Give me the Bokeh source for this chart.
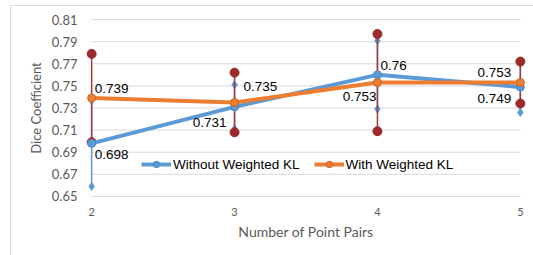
from bokeh.plotting import figure
from bokeh.models import (Range1d, FixedTicker, Legend, LegendItem, NumeralTickFormatter,
                          InlineStyleSheet)
from bokeh.core.properties import value
from bokeh.embed import file_html
from bokeh.resources import INLINE

# ---- data ----
pairs = [2, 3, 4, 5]
without_kl = [0.698, 0.731, 0.760, 0.749]
without_err = [0.039, 0.020, 0.031, 0.023]
with_kl = [0.739, 0.735, 0.753, 0.753]
with_err = [0.040, 0.027, 0.044, 0.019]
y_ticks = [0.65, 0.67, 0.69, 0.71, 0.73, 0.75, 0.77, 0.79, 0.81]
x_ticks = [2, 3, 4, 5]

# label placement (styles)
without_dx = [3, -8, 3, -9]
without_dy = [11, 16, -9, 11]
without_align = ["left", "right", "left", "right"]
with_dx = [3, 9, -1, -9]
with_dy = [-10, -16, 14, -10]
with_align = ["left", "left", "right", "right"]

BLUE = "#5B9BD5"
ORANGE = "#ED7D31"
RED = "#A23B37"
RED_CAP = "#9B2A2A"
GRID = "#D9D9D9"
GREY = "#595959"

p = figure(width=533, height=255, output_backend="svg", toolbar_location=None,
           x_range=Range1d(1.95, 5.05), y_range=Range1d(0.649, 0.811),
           min_border_left=84, min_border_right=6, min_border_top=18, min_border_bottom=58)
p.outline_line_color = None
p.xgrid.grid_line_color = None
p.ygrid.grid_line_color = None

# outer chart-area border (left and top edges visible)
p.stylesheets = [InlineStyleSheet(css="""
:host { position: relative; }
:host::after { content: ''; position: absolute; left: 10px; top: 5px; right: 0; bottom: 0;
               border-left: 1px solid #D9D9D9; border-top: 1px solid #D9D9D9;
               pointer-events: none; }
""")]

# grid lines spanning exactly the category extent
p.segment(x0=[x_ticks[0]] * len(y_ticks), x1=[x_ticks[-1]] * len(y_ticks),
          y0=y_ticks, y1=y_ticks, line_color=GRID, line_width=1)

for ax in (p.xaxis[0], p.yaxis[0]):
    ax.axis_line_color = None
    ax.major_tick_line_color = None
    ax.minor_tick_line_color = None
    ax.major_tick_out = 0
    ax.major_tick_in = 0
    ax.major_label_text_color = GREY
    ax.major_label_text_font = "Lato"
    ax.axis_label_text_color = GREY
    ax.axis_label_text_font = "Lato"
    ax.axis_label_text_font_style = "normal"

p.xaxis.major_label_text_font_size = "11px"
p.yaxis.major_label_text_font_size = "13px"
p.xaxis.axis_label_text_font_size = "14px"
p.yaxis.axis_label_text_font_size = "13px"

p.xaxis.ticker = FixedTicker(ticks=x_ticks)
p.yaxis.ticker = FixedTicker(ticks=y_ticks)
p.yaxis.formatter = NumeralTickFormatter(format="0.00")
p.xaxis.axis_label = "Number of Point Pairs"
p.yaxis.axis_label = "Dice Coefficient"
p.yaxis.major_label_standoff = 7
p.xaxis.major_label_standoff = 10
p.yaxis.axis_label_standoff = 5
p.xaxis.axis_label_standoff = 4

# error bars: without KL (blue)
b_lo = [v - e for v, e in zip(without_kl, without_err)]
b_hi = [v + e for v, e in zip(without_kl, without_err)]
p.segment(x0=pairs, x1=pairs, y0=b_lo, y1=b_hi, line_color=BLUE, line_width=1.5)
p.scatter(pairs + pairs, b_lo + b_hi, marker="diamond", size=8, color=BLUE)

# error bars: with KL (red)
r_lo = [v - e for v, e in zip(with_kl, with_err)]
r_hi = [v + e for v, e in zip(with_kl, with_err)]
p.segment(x0=pairs, x1=pairs, y0=r_lo, y1=r_hi, line_color=RED, line_width=1.5)
p.scatter(pairs + pairs, r_lo + r_hi, marker="circle", size=9, color=RED_CAP)

# series
bl = p.line(pairs, without_kl, line_color=BLUE, line_width=4)
bm = p.scatter(pairs, without_kl, marker="circle", size=8, fill_color=BLUE, line_color="#4A88C6")
ol = p.line(pairs, with_kl, line_color=ORANGE, line_width=4)
om = p.scatter(pairs, with_kl, marker="circle", size=8, fill_color=ORANGE, line_color="#C8622A")

# data labels
for xs, ys, dxs, dys, aligns in ((pairs, without_kl, without_dx, without_dy, without_align),
                                 (pairs, with_kl, with_dx, with_dy, with_align)):
    for x, y, dx, dy, al in zip(xs, ys, dxs, dys, aligns):
        p.text(x=[x], y=[y], text=[f"{y:g}"], x_offset=dx, y_offset=dy,
               text_align=al, text_baseline="middle",
               text_font=value("Liberation Sans"), text_font_size="13.5px", text_color="#000000")

legend = Legend(items=[LegendItem(label="Without Weighted KL", renderers=[bl, bm]),
                       LegendItem(label="With Weighted KL", renderers=[ol, om])],
                orientation="horizontal", location=(57, 25),
                padding=0, margin=0, spacing=14, label_standoff=2,
                glyph_width=30, glyph_height=16, label_height=16,
                label_text_font="Liberation Sans", label_text_font_size="13.5px",
                label_text_color="#000000",
                background_fill_alpha=0, border_line_color=None)
p.add_layout(legend, "center")

open("out.html", "w").write(file_html(p, INLINE))
